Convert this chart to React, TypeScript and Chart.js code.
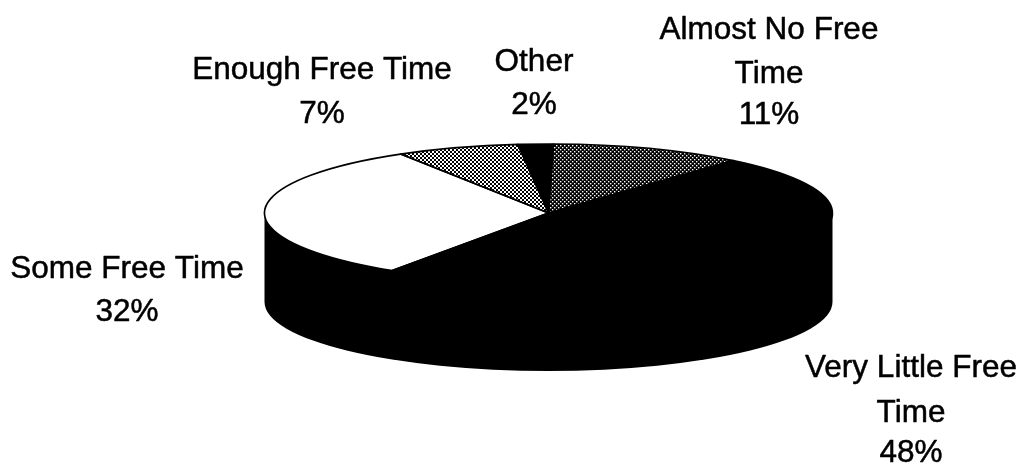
import React, { useEffect, useRef } from "react";
import { Chart, ArcElement, PieController } from "chart.js";

Chart.register(ArcElement, PieController);

// Survey shares, clockwise from twelve o'clock.
const categories = ["Almost No Free Time", "Very Little Free Time", "Some Free Time", "Enough Free Time", "Other"];
const shares = [11, 48, 32, 7, 2];
const wrappedNames = [
  ["Almost No Free", "Time"],
  ["Very Little Free", "Time"],
  ["Some Free Time"],
  ["Enough Free Time"],
  ["Other"],
];

// Tilted disc geometry, in canvas pixels.
const RADIUS_X = 284;
const RADIUS_Y = 69;
const WALL = 89;
const SQUASH = RADIUS_Y / RADIUS_X;
const CENTER_X = 548.5;
const CENTER_Y = 213;
const WIDTH = 1022;
const HEIGHT = 463;
const LABEL_FONT = '31.5px "Liberation Sans", Arial, sans-serif';
// Centre x and the baseline of every line for each label block.
const labelAnchors = [
  [769, 39, 83, 124],
  [911, 377, 422, 462],
  [127, 278, 321],
  [322, 79, 123],
  [534, 71, 114],
];

function dotTile(size: number, ground: string, ink: string, dots: number[][], dot: number) {
  const tile = document.createElement("canvas");
  tile.width = size;
  tile.height = size;
  const c = tile.getContext("2d")!;
  c.fillStyle = ground;
  c.fillRect(0, 0, size, size);
  c.fillStyle = ink;
  dots.forEach(([x, y]) => c.fillRect(x, y, dot, dot));
  const pattern = c.createPattern(tile, "repeat")!;
  // Cancels the vertical squash so the dots stay square on the disc.
  pattern.setTransform(new DOMMatrix().scale(1, 1 / SQUASH));
  return pattern;
}

const squashAboutCentre = (ctx: CanvasRenderingContext2D, x: number, y: number) => {
  ctx.translate(x, y);
  ctx.scale(1, SQUASH);
  ctx.translate(-x, -y);
};

const tiltedPie = {
  id: "tiltedPie",
  beforeDatasetsDraw(chart: any) {
    const { ctx } = chart;
    const arcs = chart.getDatasetMeta(0).data;
    const { x, y, outerRadius } = arcs[0].getProps(["x", "y", "outerRadius"], true);
    const ry = outerRadius * SQUASH;
    // The wall below the rim.
    ctx.save();
    ctx.fillStyle = "#000";
    ctx.beginPath();
    ctx.ellipse(x, y + WALL, outerRadius, ry, 0, 0, Math.PI);
    ctx.lineTo(x - outerRadius, y);
    ctx.lineTo(x + outerRadius, y);
    ctx.closePath();
    ctx.fill();
    ctx.restore();
    // Slices are painted by the library through this flattening transform.
    ctx.save();
    ctx.imageSmoothingEnabled = false;
    squashAboutCentre(ctx, x, y);
  },
  afterDatasetsDraw(chart: any) {
    const { ctx } = chart;
    ctx.restore();
    // Slice outlines are stroked unsquashed for an even line weight.
    chart.getDatasetMeta(0).data.forEach((arc: any) => {
      const { x, y, outerRadius, startAngle, endAngle } = arc.getProps(
        ["x", "y", "outerRadius", "startAngle", "endAngle"],
        true,
      );
      ctx.save();
      squashAboutCentre(ctx, x, y);
      ctx.beginPath();
      ctx.moveTo(x, y);
      ctx.arc(x, y, outerRadius, startAngle, endAngle);
      ctx.closePath();
      ctx.restore();
      ctx.strokeStyle = "#000";
      ctx.lineWidth = 1.6;
      ctx.lineJoin = "round";
      ctx.stroke();
    });
    // Name and share beside each slice, slightly emboldened.
    ctx.save();
    ctx.font = LABEL_FONT;
    ctx.fillStyle = "#000";
    ctx.strokeStyle = "#000";
    ctx.lineWidth = 0.5;
    ctx.textAlign = "center";
    ctx.textBaseline = "alphabetic";
    categories.forEach((_, i) => {
      const [cx, ...baselines] = labelAnchors[i];
      [...wrappedNames[i], `${shares[i]}%`].forEach((line, n) => {
        ctx.fillText(line, cx, baselines[n]);
        ctx.strokeText(line, cx, baselines[n]);
      });
    });
    ctx.restore();
  },
};

export default function App() {
  const canvasRef = useRef<HTMLCanvasElement | null>(null);

  useEffect(() => {
    const sparse = dotTile(4, "#000", "#fff", [[0, 0], [2, 2]], 1.4);
    const checker = dotTile(4, "#fff", "#000", [[0, 0], [2, 2]], 2);
    const chart = new Chart(canvasRef.current!, {
      type: "pie",
      data: {
        labels: categories,
        datasets: [
          {
            data: shares,
            backgroundColor: [sparse, "#000", "#fff", checker, "#000"],
            borderWidth: 0,
            radius: RADIUS_X,
            clip: false,
          } as any,
        ],
      },
      options: {
        responsive: false,
        animation: false,
        rotation: 1,
        layout: {
          padding: {
            left: 2 * CENTER_X - WIDTH,
            bottom: HEIGHT - 2 * CENTER_Y,
            top: 0,
            right: 0,
          },
        },
        plugins: { legend: { display: false }, tooltip: { enabled: false } },
      },
      plugins: [tiltedPie],
    });
    return () => chart.destroy();
  }, []);

  return (
    <div style={{ position: "fixed", left: 0, top: 0, width: WIDTH, height: HEIGHT, background: "#fff" }}>
      <canvas ref={canvasRef} width={WIDTH} height={HEIGHT} style={{ display: "block" }} />
    </div>
  );
}
